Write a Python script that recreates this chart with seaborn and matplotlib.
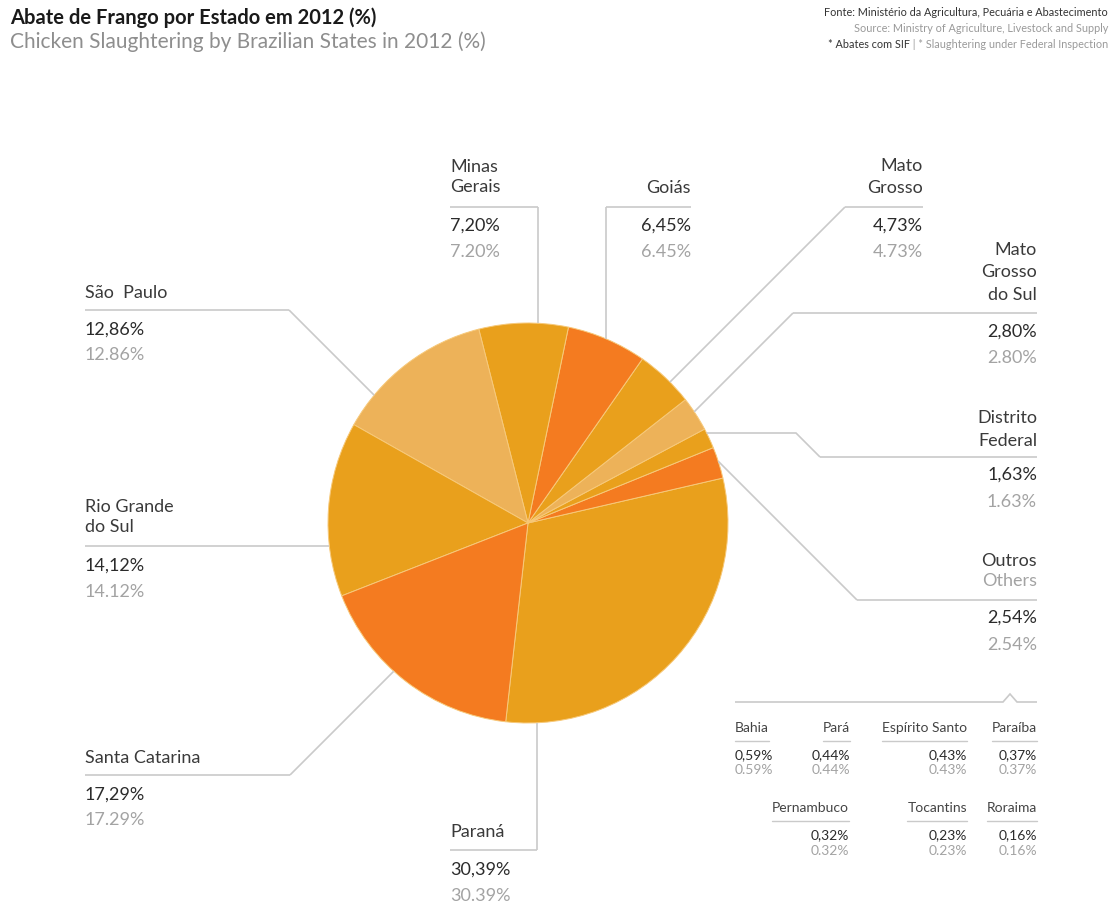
import numpy as np
import matplotlib
matplotlib.use("Agg")
import matplotlib.pyplot as plt
import seaborn as sns

# Chicken slaughtering share (%) by state, listed counter-clockwise from Paraná
states = ["Paraná", "Outros", "Distrito Federal", "Mato Grosso do Sul", "Mato Grosso",
          "Goiás", "Minas Gerais", "São Paulo", "Rio Grande do Sul", "Santa Catarina"]
shares = [30.39, 2.54, 1.63, 2.80, 4.73, 6.45, 7.20, 12.86, 14.12, 17.29]

# Breakdown of the "Outros" slice
other_states = ["Bahia", "Pará", "Espírito Santo", "Paraíba",
                "Pernambuco", "Tocantins", "Roraima"]
other_shares = [0.59, 0.44, 0.43, 0.37, 0.32, 0.23, 0.16]

share_of = dict(zip(states, shares))
other_of = dict(zip(other_states, other_shares))

GOLD, ORANGE, LIGHT = "#E9A01C", "#F47B20", "#EDB259"
slice_colors = [GOLD, ORANGE, GOLD, LIGHT, GOLD, ORANGE, GOLD, LIGHT, GOLD, ORANGE]

DARK, GREY, RULE = "#2B2B2B", "#A3A3A3", "#CACACA"
LABEL_SIZE = 13
SMALL_SIZE = 10

W, H = 1115, 905
sns.set_theme(style="white")
plt.rcParams["font.family"] = ["Lato", "DejaVu Sans"]

fig = plt.figure(figsize=(W / 100, H / 100), dpi=100)
ax = fig.add_axes([0, 0, 1, 1])


def Y(py):
    """Canvas row (top = 0) to axis y."""
    return H - py


CX, CY, R = 528, 523, 200
ax.pie(shares, colors=slice_colors, startangle=-96.4, counterclock=True,
       center=(CX, Y(CY)), radius=R, frame=True,
       wedgeprops=dict(edgecolor="#F7C97A", linewidth=0.7))
ax.set_xlim(0, W)
ax.set_ylim(0, H)
ax.set_aspect("equal")
ax.axis("off")


def rim_hit(ex, ey, dx, dy):
    """First point where a ray from (ex, ey) along (dx, dy) meets the pie rim."""
    n = np.hypot(dx, dy)
    dx, dy = dx / n, dy / n
    fx, fy = ex - CX, ey - CY
    b = fx * dx + fy * dy
    c = fx * fx + fy * fy - R * R
    t = -b - np.sqrt(b * b - c)
    return ex + t * dx, ey + t * dy


def line(xs, ys, **kw):
    ax.plot(xs, [Y(v) for v in ys], color=RULE, lw=1.2,
            solid_capstyle="butt", solid_joinstyle="miter", **kw)


def txt(x, y, s, ha="left", size=LABEL_SIZE, color=DARK, **kw):
    return ax.text(x, Y(y), s, ha=ha, va="center", fontsize=size, color=color, **kw)


def pct_pt(v):
    return f"{v:.2f}%".replace(".", ",")


def pct_en(v):
    return f"{v:.2f}%"


# Label blocks: name lines, alignment, anchor x, name rows, rule row, rule span,
# leader path (points before the ray) and ray direction toward the rim
labels = [
    dict(state="Minas Gerais", lines=["Minas", "Gerais"], ha="left", x=450,
         rows=[167, 187], rule=207, span=(450, 538), path=[(538, 207)], ray=(0, 1), vals=(226, 252)),
    dict(state="Goiás", lines=["Goiás"], ha="right", x=691,
         rows=[188], rule=207, span=(606, 691), path=[(606, 207)], ray=(0, 1), vals=(226, 252)),
    dict(state="Mato Grosso", lines=["Mato", "Grosso"], ha="right", x=923,
         rows=[166, 188], rule=207, span=(845, 923), path=[(845, 207)], ray=(-1, 1), vals=(226, 252)),
    dict(state="Mato Grosso do Sul", lines=["Mato", "Grosso", "do Sul"], ha="right", x=1037,
         rows=[250, 272, 295], rule=313, span=(793, 1037), path=[(793, 313)], ray=(-1, 1), vals=(332, 358)),
    dict(state="Distrito Federal", lines=["Distrito", "Federal"], ha="right", x=1037,
         rows=[418, 441], rule=457, span=(820, 1037), path=[(820, 457), (796, 433)], ray=(-1, 0),
         vals=(475, 502)),
    dict(state="Outros", lines=["Outros"], ha="right", x=1037,
         rows=[561], rule=600, span=(857, 1037), path=[(857, 600)], ray=(-1, -1), vals=(618, 645)),
    dict(state="São Paulo", lines=["São  Paulo"], ha="left", x=85,
         rows=[293], rule=310, span=(85, 289), path=[(289, 310)], ray=(1, 1), vals=(330, 355)),
    dict(state="Rio Grande do Sul", lines=["Rio Grande", "do Sul"], ha="left", x=85,
         rows=[507, 527], rule=546, span=(85, 260), path=[(260, 546)], ray=(1, 0), vals=(566, 592)),
    dict(state="Santa Catarina", lines=["Santa Catarina"], ha="left", x=85,
         rows=[758], rule=775, span=(85, 290), path=[(290, 775)], ray=(1, -1), vals=(795, 820)),
    dict(state="Paraná", lines=["Paraná"], ha="left", x=450,
         rows=[832], rule=850, span=(450, 537), path=[(537, 850)], ray=(0, -1), vals=(870, 896)),
]

for lb in labels:
    for s, row in zip(lb["lines"], lb["rows"]):
        txt(lb["x"], row, s, ha=lb["ha"], color="#3A3A3A")
    line(list(lb["span"]), [lb["rule"], lb["rule"]])
    pts = list(lb["path"])
    ex, ey = pts[-1]
    pts.append(rim_hit(ex, ey, *lb["ray"]))
    line([p[0] for p in pts], [p[1] for p in pts])
    v = share_of[lb["state"]]
    txt(lb["x"], lb["vals"][0], pct_pt(v), ha=lb["ha"], color=DARK)
    txt(lb["x"], lb["vals"][1], pct_en(v), ha=lb["ha"], color=GREY)

txt(1037, 581, "Others", ha="right", color=GREY)

# Breakdown panel under "Outros"
line([735, 1003, 1010, 1017, 1037], [702, 702, 694, 702, 702])
small = [
    ("Bahia", "left", 735, 728, 741, (755, 770)),
    ("Pará", "right", 850, 728, 741, (755, 770)),
    ("Espírito Santo", "right", 967, 728, 741, (755, 770)),
    ("Paraíba", "right", 1037, 728, 741, (755, 770)),
    ("Pernambuco", "right", 849, 808, 821, (835, 851)),
    ("Tocantins", "right", 967, 808, 821, (835, 851)),
    ("Roraima", "right", 1037, 808, 821, (835, 851)),
]
fig.canvas.draw()
renderer = fig.canvas.get_renderer()
for name, ha, x, ny, uy, (v1, v2) in small:
    t = txt(x, ny, name, ha=ha, size=SMALL_SIZE, color="#444444")
    bb = t.get_window_extent(renderer)
    ax.plot([bb.x0, bb.x1], [Y(uy), Y(uy)], color=RULE, lw=1.0)
    v = other_of[name]
    txt(x, v1, pct_pt(v), ha=ha, size=SMALL_SIZE, color=DARK)
    txt(x, v2, pct_en(v), ha=ha, size=SMALL_SIZE, color=GREY)

# Heading
txt(10, 18, "Abate de Frango por Estado em 2012 (%)", size=14.5, color="#1A1A1A", weight="bold")
txt(10, 42, "Chicken Slaughtering by Brazilian States in 2012 (%)", size=15, color="#8E8E8E")

# Source notes
txt(1108, 13, "Fonte: Ministério da Agricultura, Pecuária e Abastecimento", ha="right",
    size=7.8, color="#333333")
txt(1108, 29, "Source: Ministry of Agriculture, Livestock and Supply", ha="right",
    size=7.8, color="#9A9A9A")
tail = txt(1108, 45, " | * Slaughtering under Federal Inspection", ha="right",
           size=7.8, color="#9A9A9A")
bb = tail.get_window_extent(renderer)
txt(bb.x0, 45, "* Abates com SIF", ha="right", size=7.8, color="#333333")

fig.savefig("out.png", dpi=100)
